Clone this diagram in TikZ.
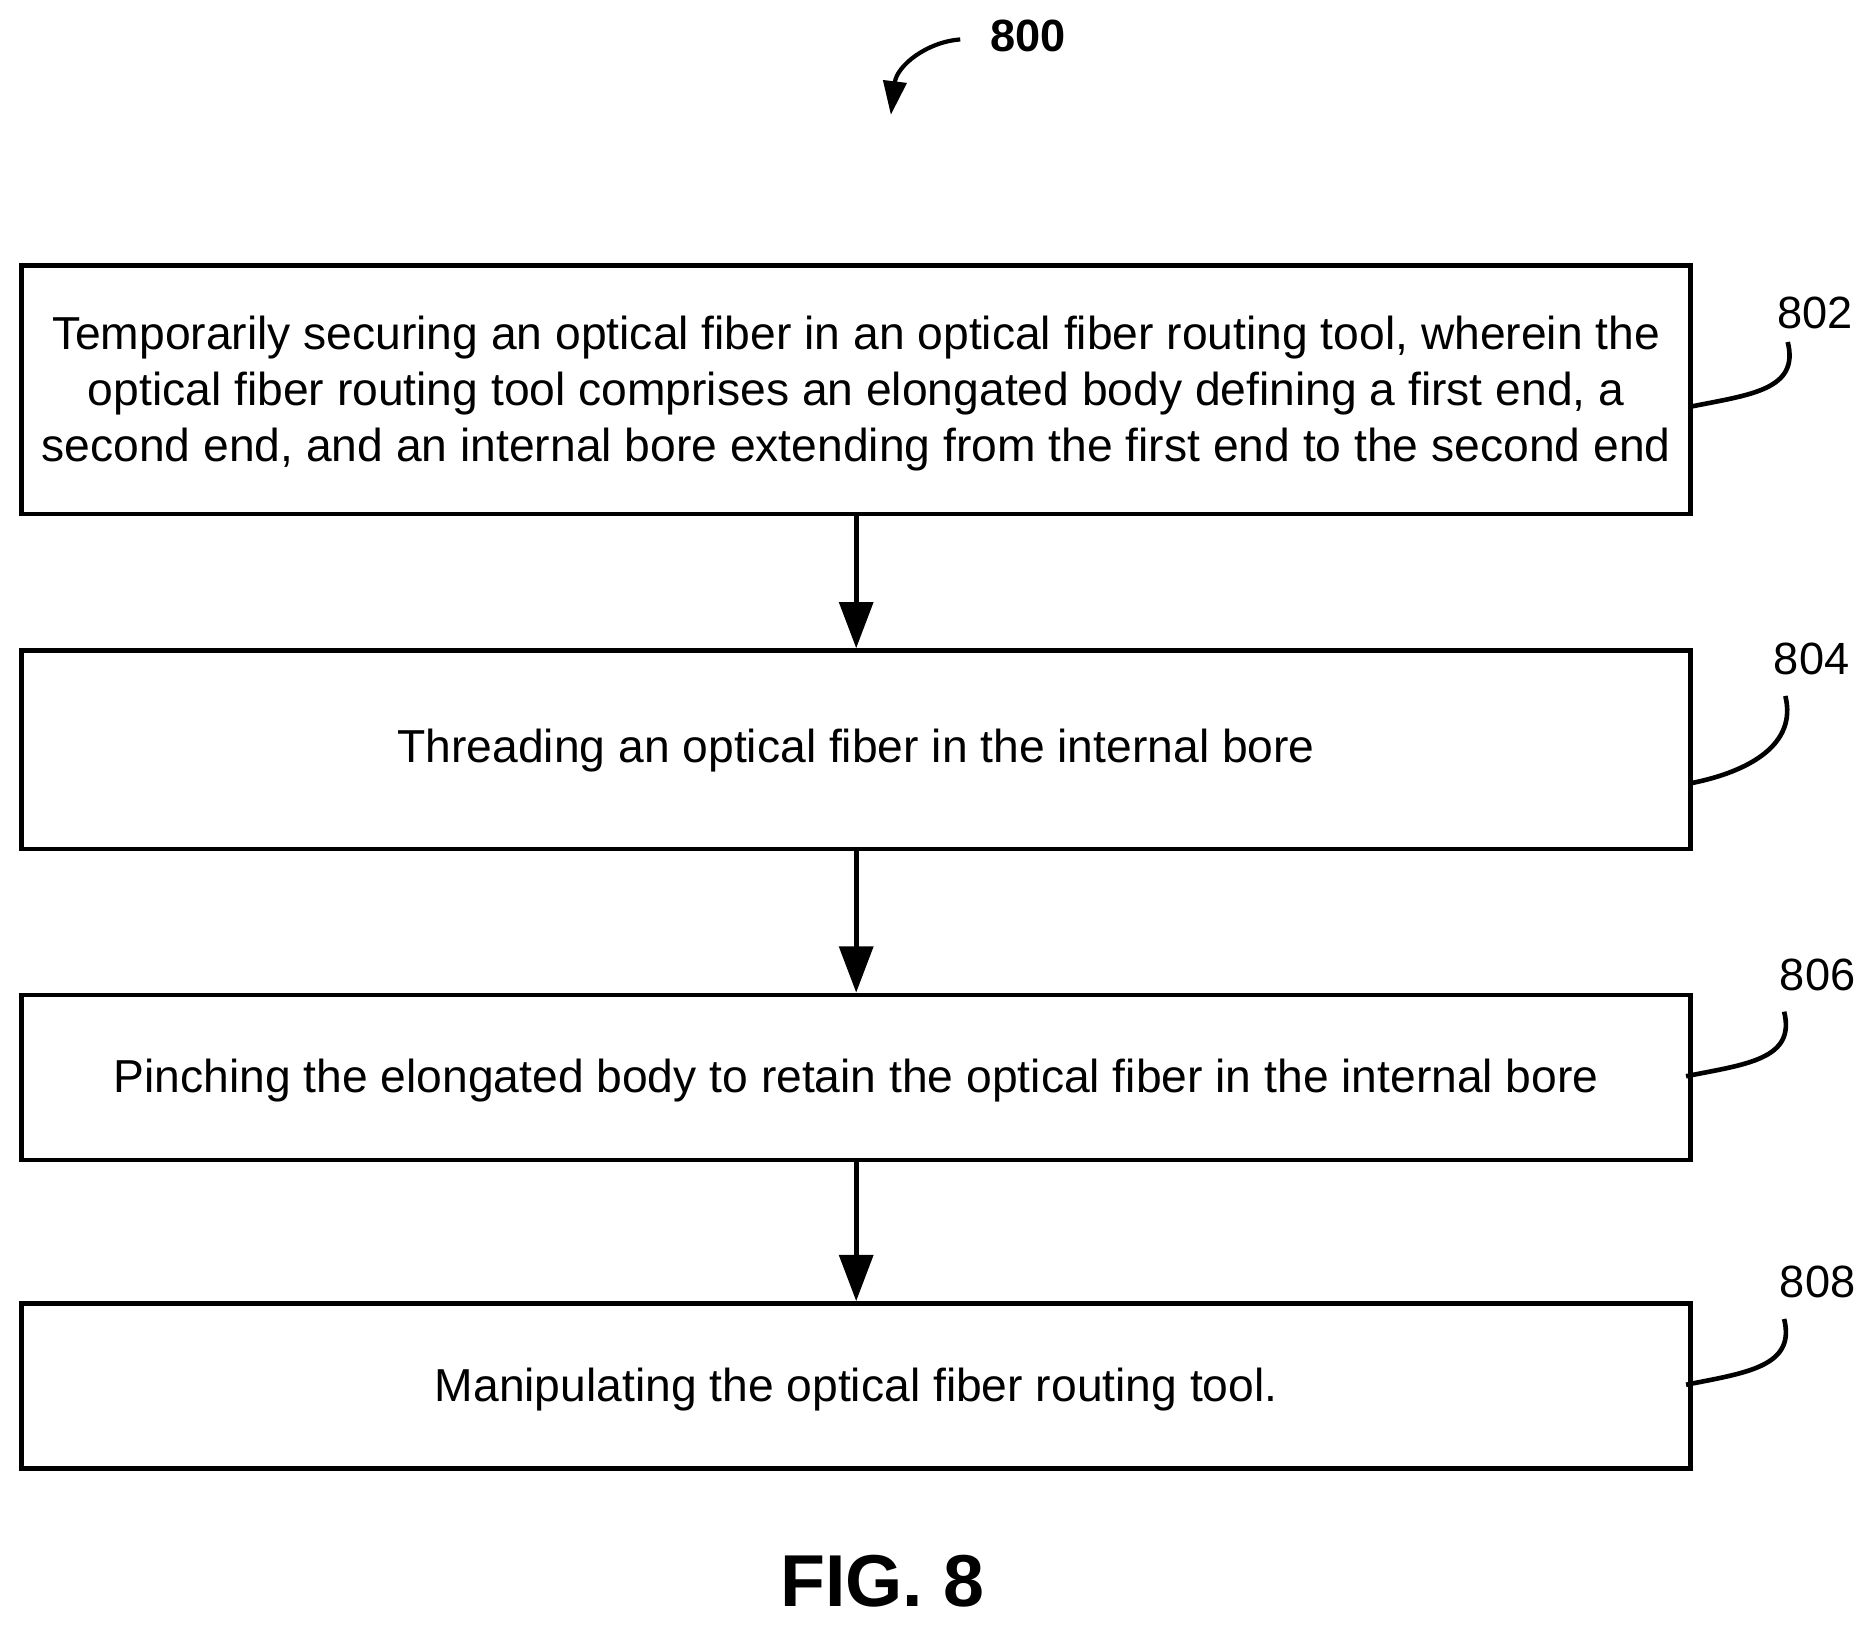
\documentclass[tikz,border=0pt]{standalone}
\usepackage{fontspec}
\setmainfont{Liberation Sans}
\usetikzlibrary{arrows.meta}
\begin{document}
\begin{tikzpicture}[x=0.02cm,y=-0.02cm,
  box/.style={draw,line width=2.2pt,inner sep=0pt},
  txt/.style={font=\fontsize{22}{26.5}\selectfont,align=center},
  arr/.style={line width=2.2pt,-{Triangle[length=22pt,width=16pt]}},
  lead/.style={line width=2.2pt},
  num/.style={font=\fontsize{21.5}{26}\selectfont}]
\useasboundingbox (0,0) rectangle (1568,1360);
\node[box,minimum width=27.92cm,minimum height=4.16cm] (b1) at (716,326) {};
\node[box,minimum width=27.92cm,minimum height=3.32cm] (b2) at (716,627) {};
\node[box,minimum width=27.92cm,minimum height=2.76cm] (b3) at (716,901) {};
\node[box,minimum width=27.92cm,minimum height=2.76cm] (b4) at (716,1159) {};
\node[txt] (t1) at (716,329) {Temporarily securing an optical fiber in an optical fiber routing tool, wherein the\\optical fiber routing tool comprises an elongated body defining a first end, a\\second end, and an internal bore extending from the first end to the second end};
\node[txt] (t2) at (716,628) {Threading an optical fiber in the internal bore};
\node[txt] (t3) at (716,904) {Pinching the elongated body to retain the optical fiber in the internal bore};
\node[txt] (t4) at (716,1162) {Manipulating the optical fiber routing tool.};
\draw[arr] (b1.south) -- (b2.north);
\draw[arr] (b2.south) -- (b3.north);
\draw[arr] (b3.south) -- (b4.north);
\node[num] (n2) at (1518,262) {802};
\node[num] (n4) at (1515,551) {804};
\node[num] (n6) at (1520,815) {806};
\node[num] (n8) at (1520,1072) {808};
\coordinate (c2) at (1414,340); \coordinate (d2) at (1495,286);
\coordinate (c4) at (1414,655); \coordinate (d4) at (1493,582);
\coordinate (c6) at (1410,900); \coordinate (d6) at (1492,846);
\coordinate (c8) at (1410,1158); \coordinate (d8) at (1492,1103);
\foreach \a/\b in {c2/d2,c4/d4,c6/d6,c8/d8}
  \draw[lead] (\a) .. controls +(50,-10) and +(10,40) .. (\b);
\node[font=\bfseries\fontsize{21.5}{26}\selectfont] (n0) at (860,30) {800};
\coordinate (s0) at (803,33);
\coordinate (e0) at (745,96);
\draw[line width=2pt,-{Triangle[length=16pt,width=11pt]}] (s0) .. controls (775,35) and (750,55) .. (e0);
\node[font=\bfseries\fontsize{35}{40}\selectfont] (fig) at (738,1322) {FIG. 8};
\end{tikzpicture}
\end{document}
